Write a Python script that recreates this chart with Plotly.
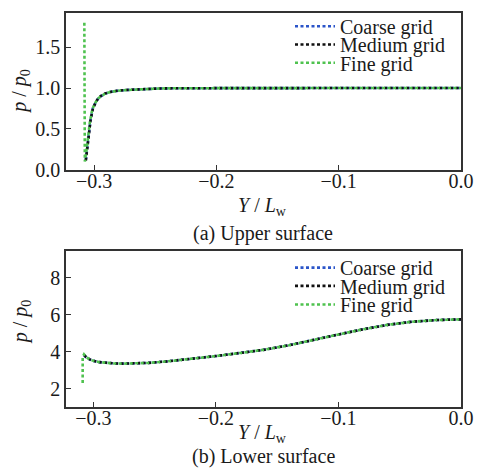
import plotly.graph_objects as go

# ---------------- data ----------------
series_names = ["Coarse grid", "Medium grid", "Fine grid"]
series_colors = ["#2b55c9", "#111111", "#4fc24f"]

# Upper surface
upper_x_coarse = [-0.3068, -0.3055, -0.3045, -0.3030, -0.3010, -0.2985, -0.2965, -0.2940, -0.2910,
                  -0.2870, -0.2815, -0.2740, -0.2652, -0.2550, -0.2461, -0.2300, -0.2000,
                  -0.1500, -0.1000, -0.0500, 0.0]
upper_p_coarse = [0.12, 0.26, 0.41, 0.60, 0.75, 0.83, 0.875, 0.905, 0.932, 0.950, 0.965, 0.975,
                  0.983, 0.990, 0.995, 0.998, 1.000, 1.000, 1.000, 1.000, 1.000]
upper_x_medium = [-0.3068, -0.3055, -0.3045, -0.3030, -0.3010, -0.2985, -0.2965, -0.2940, -0.2910,
                  -0.2870, -0.2815, -0.2740, -0.2652, -0.2550, -0.2461, -0.2300, -0.2000,
                  -0.1500, -0.1000, -0.0500, 0.0]
upper_p_medium = [0.11, 0.25, 0.40, 0.60, 0.75, 0.83, 0.878, 0.908, 0.934, 0.951, 0.966, 0.976,
                  0.984, 0.990, 0.995, 0.998, 1.000, 1.000, 1.000, 1.000, 1.000]
upper_x_fine = [-0.3080, -0.3076, -0.3062, -0.3050, -0.3035, -0.3015, -0.2990, -0.2965, -0.2940,
                -0.2910, -0.2870, -0.2815, -0.2740, -0.2652, -0.2550, -0.2461, -0.2300,
                -0.2000, -0.1500, -0.1000, -0.0500, 0.0]
upper_p_fine = [1.80, 0.10, 0.24, 0.40, 0.58, 0.74, 0.82, 0.875, 0.905, 0.932, 0.950, 0.965,
                0.975, 0.983, 0.990, 0.995, 0.998, 1.000, 1.000, 1.000, 1.000, 1.000]

# Lower surface
lower_x_coarse = [-0.3075, -0.3060, -0.3030, -0.3000, -0.2950, -0.2900, -0.2830, -0.2750,
                  -0.2650, -0.2550, -0.2400, -0.2200, -0.2000, -0.1800, -0.1600, -0.1400,
                  -0.1200, -0.1000, -0.0800, -0.0600, -0.0400, -0.0200, 0.0]
lower_p_coarse = [3.80, 3.70, 3.58, 3.50, 3.43, 3.39, 3.36, 3.35, 3.36, 3.39, 3.47, 3.60, 3.76,
                  3.93, 4.11, 4.35, 4.62, 4.93, 5.21, 5.45, 5.62, 5.71, 5.75]
lower_x_medium = [-0.3075, -0.3060, -0.3030, -0.3000, -0.2950, -0.2900, -0.2830, -0.2750,
                  -0.2650, -0.2550, -0.2400, -0.2200, -0.2000, -0.1800, -0.1600, -0.1400,
                  -0.1200, -0.1000, -0.0800, -0.0600, -0.0400, -0.0200, 0.0]
lower_p_medium = [3.82, 3.71, 3.58, 3.50, 3.43, 3.39, 3.36, 3.35, 3.36, 3.39, 3.47, 3.60, 3.76,
                  3.93, 4.11, 4.35, 4.62, 4.93, 5.21, 5.45, 5.62, 5.71, 5.75]
lower_x_fine = [-0.3087, -0.3087, -0.3076, -0.3060, -0.3030, -0.3000, -0.2950, -0.2900, -0.2830,
                -0.2750, -0.2650, -0.2550, -0.2400, -0.2200, -0.2000, -0.1800, -0.1600,
                -0.1400, -0.1200, -0.1000, -0.0800, -0.0600, -0.0400, -0.0200, 0.0]
lower_p_fine = [2.30, 3.70, 3.85, 3.72, 3.58, 3.50, 3.43, 3.39, 3.36, 3.35, 3.36, 3.39, 3.47,
                3.60, 3.76, 3.93, 4.11, 4.35, 4.62, 4.93, 5.21, 5.45, 5.62, 5.71, 5.75]

x_ticks = [-0.3, -0.2, -0.1, 0.0]
upper_y_ticks = [0.0, 0.5, 1.0, 1.5]
lower_y_ticks = [2, 4, 6, 8]

x_label = "<i>Y</i> / <i>L</i><sub>w</sub>"
y_label = "<i>p</i> / <i>p</i><sub>0</sub>"
captions = ["(a) Upper surface", "(b) Lower surface"]

# ---------------- figure ----------------
FONT = "'Liberation Serif', 'Times New Roman', Times, 'DejaVu Serif', serif"
FS = 20
TXT = "#1a1a1a"
AX = "#333333"
W, H = 481, 475
ML, MR, MT, MB = 66, 20, 7, 68
PW, PH = W - ML - MR, H - MT - MB


def py(pix):  # pixel y (from top) -> paper y
    return (H - MB - pix) / PH


def px(pix):  # pixel x -> paper x
    return (pix - ML) / PW


fig = go.Figure()

upper = [(upper_x_coarse, upper_p_coarse), (upper_x_medium, upper_p_medium), (upper_x_fine, upper_p_fine)]
lower = [(lower_x_coarse, lower_p_coarse), (lower_x_medium, lower_p_medium), (lower_x_fine, lower_p_fine)]

legend_ids = ["legend", "legend2", "legend3", "legend4", "legend5", "legend6"]
for i, (xs, ps) in enumerate(upper):
    fig.add_trace(go.Scatter(x=xs, y=ps, mode="lines", name=series_names[i], showlegend=True,
                             line=dict(color=series_colors[i], width=2.6, dash="3px,2.5px"),
                             xaxis="x", yaxis="y", legend=legend_ids[i]))
for i, (xs, ps) in enumerate(lower):
    fig.add_trace(go.Scatter(x=xs, y=ps, mode="lines", name=series_names[i], showlegend=True,
                             line=dict(color=series_colors[i], width=2.6, dash="3px,2.5px"),
                             xaxis="x2", yaxis="y2", legend=legend_ids[3 + i]))

axis_common = dict(showline=True, linecolor=AX, linewidth=1.5, mirror=True,
                   ticks="inside", ticklen=5, tickwidth=1.3, tickcolor=AX,
                   showgrid=False, zeroline=False,
                   tickfont=dict(family=FONT, size=FS, color=TXT))

layout = dict(
    width=W, height=H,
    margin=dict(l=ML, r=MR, t=MT, b=MB),
    paper_bgcolor="white", plot_bgcolor="white",
    showlegend=True,
    font=dict(family=FONT, size=FS, color=TXT),
    xaxis=dict(domain=[0, 1], range=[-0.323, 0.0], tickvals=x_ticks, tickformat=".1f",
               anchor="y", ticklabelstandoff=-7, **axis_common),
    yaxis=dict(domain=[py(166), 1.0], range=[0, 1.92], tickvals=upper_y_ticks, tickformat=".1f",
               anchor="x", **axis_common),
    xaxis2=dict(domain=[0, 1], range=[-0.3223, 0.0], tickvals=x_ticks, tickformat=".1f",
                anchor="y2", ticklabelstandoff=-8, **axis_common),
    yaxis2=dict(domain=[0, py(248.3)], range=[1, 9.47], tickvals=lower_y_ticks, tickformat="d",
                anchor="x2", **axis_common),
)

legend_rows_pix = [20.5, 39.0, 57.5, 265.5, 284.0, 303.0]
for lid, rowpix in zip(legend_ids, legend_rows_pix):
    layout[lid] = dict(x=px(290), y=py(rowpix), xanchor="left", yanchor="middle",
                       bgcolor="rgba(0,0,0,0)", borderwidth=0, itemwidth=40, visible=True,
                       font=dict(family=FONT, size=FS, color=TXT))

fig.update_layout(**layout)

annotations = [
    dict(text=x_label, x=px(262), y=py(203), xref="paper", yref="paper",
         xanchor="center", yanchor="middle", showarrow=False, font=dict(size=FS, family=FONT)),
    dict(text=captions[0], x=px(263), y=py(231), xref="paper", yref="paper",
         xanchor="center", yanchor="middle", showarrow=False, font=dict(size=FS, family=FONT)),
    dict(text=x_label, x=px(262), y=py(434), xref="paper", yref="paper",
         xanchor="center", yanchor="middle", showarrow=False, font=dict(size=FS, family=FONT)),
    dict(text=captions[1], x=px(263), y=py(457), xref="paper", yref="paper",
         xanchor="center", yanchor="middle", showarrow=False, font=dict(size=FS, family=FONT)),
    dict(text=y_label, x=px(21), y=py(87), xref="paper", yref="paper", textangle=-90,
         xanchor="center", yanchor="middle", showarrow=False, font=dict(size=FS, family=FONT)),
    dict(text=y_label, x=px(21), y=py(321), xref="paper", yref="paper", textangle=-90,
         xanchor="center", yanchor="middle", showarrow=False, font=dict(size=FS, family=FONT)),
]
fig.update_layout(annotations=annotations)

fig.write_html("out.html")
